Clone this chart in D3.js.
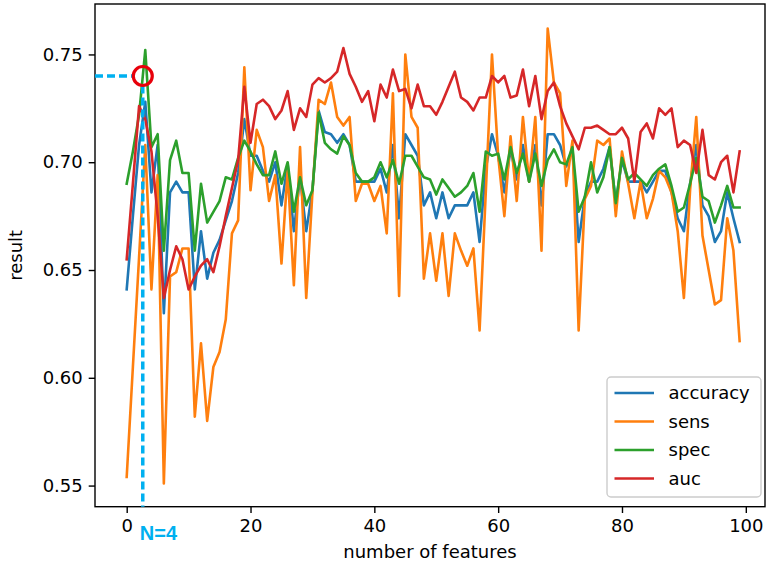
<!DOCTYPE html>
<html><head><meta charset="utf-8">
<script src="https://cdn.jsdelivr.net/npm/d3@7"></script>
<style>body{margin:0;background:#fff}svg{display:block}text{font-family:"DejaVu Sans",sans-serif}</style>
</head><body><svg id="c" width="772" height="564"></svg>
<script>
const features = d3.range(100);
const accuracy = [0.641,0.675,0.708,0.728,0.686,0.708,0.630,0.686,0.691,0.686,0.686,0.641,0.668,0.646,0.658,0.664,0.673,0.682,0.695,0.720,
0.703,0.703,0.696,0.691,0.700,0.680,0.699,0.668,0.693,0.668,0.687,0.724,0.714,0.713,0.709,0.713,0.708,0.691,0.691,0.691,
0.691,0.697,0.686,0.708,0.674,0.713,0.708,0.703,0.680,0.686,0.674,0.686,0.674,0.680,0.680,0.680,0.686,0.663,0.697,0.713,
0.703,0.686,0.706,0.692,0.708,0.691,0.708,0.680,0.713,0.713,0.708,0.698,0.706,0.663,0.684,0.691,0.691,0.697,0.707,0.681,
0.701,0.691,0.691,0.691,0.686,0.691,0.696,0.696,0.686,0.674,0.668,0.690,0.708,0.680,0.675,0.663,0.668,0.686,0.674,0.663];
const sens = [0.554,0.605,0.656,0.708,0.641,0.694,0.551,0.647,0.649,0.660,0.660,0.582,0.616,0.580,0.605,0.612,0.627,0.667,0.673,0.744,
0.687,0.715,0.707,0.682,0.694,0.653,0.696,0.643,0.707,0.637,0.686,0.729,0.727,0.737,0.721,0.717,0.721,0.682,0.690,0.690,
0.682,0.689,0.667,0.732,0.638,0.750,0.721,0.716,0.646,0.667,0.645,0.667,0.638,0.667,0.659,0.652,0.660,0.622,0.686,0.750,
0.703,0.675,0.712,0.682,0.721,0.691,0.721,0.659,0.762,0.737,0.732,0.689,0.710,0.622,0.683,0.689,0.710,0.708,0.711,0.675,
0.705,0.690,0.674,0.691,0.674,0.683,0.696,0.693,0.686,0.668,0.637,0.687,0.721,0.666,0.650,0.634,0.636,0.674,0.659,0.617];
const spec = [0.690,0.705,0.722,0.752,0.707,0.713,0.659,0.701,0.710,0.695,0.695,0.659,0.690,0.672,0.677,0.682,0.693,0.692,0.702,0.710,
0.705,0.699,0.694,0.694,0.705,0.690,0.700,0.677,0.693,0.680,0.687,0.723,0.709,0.706,0.704,0.712,0.708,0.695,0.691,0.691,
0.693,0.700,0.693,0.701,0.690,0.703,0.703,0.698,0.693,0.692,0.685,0.692,0.688,0.684,0.686,0.689,0.695,0.677,0.705,0.703,
0.704,0.692,0.707,0.695,0.704,0.691,0.704,0.689,0.701,0.706,0.700,0.699,0.707,0.677,0.684,0.700,0.686,0.693,0.707,0.681,
0.702,0.692,0.695,0.692,0.689,0.694,0.697,0.699,0.689,0.677,0.679,0.690,0.702,0.684,0.682,0.672,0.680,0.689,0.679,0.679];
const auc = [0.655,0.690,0.726,0.720,0.705,0.675,0.637,0.650,0.661,0.655,0.641,0.647,0.652,0.655,0.649,0.661,0.675,0.688,0.701,0.735,
0.709,0.727,0.729,0.726,0.720,0.724,0.733,0.715,0.725,0.721,0.736,0.739,0.737,0.739,0.742,0.753,0.741,0.735,0.728,0.733,
0.719,0.736,0.730,0.743,0.733,0.734,0.725,0.736,0.726,0.726,0.722,0.728,0.735,0.742,0.730,0.728,0.724,0.730,0.730,0.740,
0.737,0.740,0.730,0.731,0.743,0.726,0.740,0.720,0.733,0.737,0.726,0.718,0.712,0.706,0.716,0.716,0.717,0.715,0.713,0.713,
0.716,0.711,0.691,0.714,0.718,0.711,0.725,0.722,0.725,0.707,0.710,0.708,0.695,0.715,0.694,0.692,0.700,0.703,0.686,0.705];
const seriesNames = ["accuracy","sens","spec","auc"];
const seriesColors = ["#1f77b4","#ff7f0e","#2ca02c","#d62728"];
const xTicks = [0,20,40,60,80,100];
const yTicks = [0.55,0.60,0.65,0.70,0.75];
const highlightX = 3, highlightY = 0.74, highlightLabel = "N=4";

const svg = d3.select("#c");
const L=95, R=765, T=4, B=506.7;
const x = d3.scaleLinear().domain([-5.12,103.1]).range([L,R]);
const y = d3.scaleLinear().domain([0.5402,0.7734]).range([B,T]);

const data = [accuracy,sens,spec,auc];
const line = d3.line().x((d,i)=>x(features[i])).y(d=>y(d));
const g = svg.append("g");
g.append("defs").append("clipPath").attr("id","clip").append("rect").attr("x",L).attr("y",T).attr("width",R-L).attr("height",B-T);
const plot = g.append("g").attr("clip-path","url(#clip)");
data.forEach((s,k)=>{
  plot.append("path").datum(s).attr("d",line).attr("fill","none")
    .attr("stroke",seriesColors[k]).attr("stroke-width",2.6).attr("stroke-linejoin","round").attr("stroke-linecap","square");
});

// axes
const xAxis = d3.axisBottom(x).tickValues(xTicks).tickFormat(d3.format("d")).tickSize(6.3).tickPadding(6);
const yAxis = d3.axisLeft(y).tickValues(yTicks).tickFormat(d3.format(".2f")).tickSize(6.3).tickPadding(6);
const gx = svg.append("g").attr("transform",`translate(0,${B})`).call(xAxis);
const gy = svg.append("g").attr("transform",`translate(${L},0)`).call(yAxis);
[gx,gy].forEach(a=>{
  a.select(".domain").remove();
  a.selectAll("line").attr("stroke","#000").attr("stroke-width",1.4);
  a.selectAll("text").attr("fill","#000").style("font-size","18px").style("font-family","DejaVu Sans");
});
svg.append("rect").attr("x",L).attr("y",T).attr("width",R-L).attr("height",B-T)
  .attr("fill","none").attr("stroke","#000").attr("stroke-width",1.4);

svg.append("text").attr("x",(L+R)/2).attr("y",558).attr("text-anchor","middle")
  .style("font-size","18px").text("number of features");
svg.append("text").attr("transform",`translate(22,${(T+B)/2}) rotate(-90)`).attr("text-anchor","middle")
  .style("font-size","18px").text("result");

// annotation (hand-drawn marker sits slightly left of the data point)
const cx = x(highlightX) - 2.5, cy = y(highlightY), r = 9.5;
const blue = "#00b0f0";
svg.append("line").attr("x1",L).attr("x2",cx-r).attr("y1",cy).attr("y2",cy)
  .attr("stroke",blue).attr("stroke-width",3.5).attr("stroke-dasharray","8,4");
svg.append("line").attr("x1",cx).attr("x2",cx).attr("y1",cy+r).attr("y2",B)
  .attr("stroke",blue).attr("stroke-width",3.5).attr("stroke-dasharray","8,4");
svg.append("circle").attr("cx",cx).attr("cy",cy).attr("r",r).attr("fill","none")
  .attr("stroke","#e8000b").attr("stroke-width",3.2);
svg.append("text").attr("x",cx-3).attr("y",540).attr("fill",blue)
  .style("font-family","Liberation Sans").style("font-weight","bold").style("font-size","20px").text(highlightLabel);

// legend
const lg = svg.append("g");
lg.append("rect").attr("x",607).attr("y",377).attr("width",154).attr("height",120).attr("rx",4)
  .attr("fill","#fff").attr("fill-opacity",0.8).attr("stroke","#cccccc").attr("stroke-width",1.4);
seriesNames.forEach((n,k)=>{
  const yy = 393 + k*28.5;
  lg.append("line").attr("x1",614.5).attr("x2",654).attr("y1",yy).attr("y2",yy)
    .attr("stroke",seriesColors[k]).attr("stroke-width",2.6);
  lg.append("text").attr("x",668.5).attr("y",yy+6.3).style("font-size","18px").text(n);
});
</script></body></html>
